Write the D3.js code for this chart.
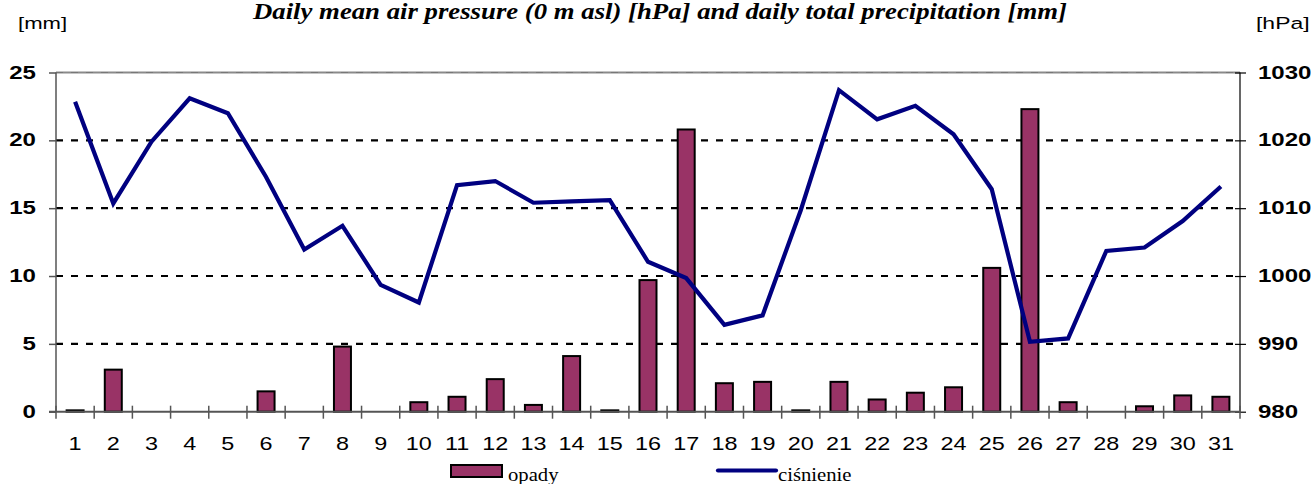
<!DOCTYPE html>
<html><head><meta charset="utf-8">
<script src="https://cdn.jsdelivr.net/npm/d3@7"></script>
<style>html,body{margin:0;padding:0;background:#fff;}svg{display:block;}</style>
</head><body>
<svg id="chart" width="1314" height="484"></svg>
<script>
const days = d3.range(1, 32).map(String);
const precipitation = [0.1,3.1,0,0,0,1.5,0,4.8,0,0.7,1.1,2.4,0.5,4.1,0.1,9.7,20.8,2.1,2.2,0.1,2.2,0.9,1.4,1.8,10.6,22.3,0.7,0,0.4,1.2,1.1];
const pressure = [1025.7,1010.7,1019.8,1026.2,1024.0,1014.6,1003.9,1007.4,998.7,996.1,1013.4,1014.0,1010.8,1011.0,1011.2,1002.1,999.7,992.8,994.2,1009.7,1027.4,1023.1,1025.1,1020.9,1012.8,990.3,990.8,1003.7,1004.2,1008.1,1013.2];
const precipTicks = [0,5,10,15,20,25];
const pressureTicks = [980,990,1000,1010,1020,1030];
const titleText = "Daily mean air pressure (0 m asl) [hPa] and daily total precipitation [mm]";
const seriesNames = ["opady","ciśnienie"];

const svg = d3.select("#chart");
const L = 56, R = 1240, T = 72.5, B = 411.7;
const SX = 1.3;
const x = d3.scaleBand().domain(days).range([L, R]).paddingInner(0.555).paddingOuter(0.2775);
const xb = d3.scaleBand().domain(days).range([L, R]);
const y = d3.scaleLinear().domain([0, 25]).range([B, T]);
const y2 = d3.scaleLinear().domain([980, 1030]).range([B, T]);

function txt(g, x0, y0, s, opts) {
  const t = g.append("text").attr("transform", `translate(${x0},${y0}) scale(${opts.sx||SX},1)`)
    .attr("font-family", opts.family || "Liberation Sans, Arial, sans-serif")
    .attr("font-size", opts.size || 18)
    .attr("font-weight", opts.weight || "normal")
    .attr("font-style", opts.style || "normal")
    .attr("text-anchor", opts.anchor || "start")
    .attr("dominant-baseline", opts.baseline || "auto")
    .attr("fill", "#000").text(s);
  return t;
}

// grid lines
svg.append("g").selectAll("line").data(precipTicks.filter(d => d > 0 && d < 25)).join("line")
  .attr("x1", L).attr("x2", R).attr("y1", d => y(d)).attr("y2", d => y(d))
  .attr("stroke", "#000").attr("stroke-width", 2.2).attr("stroke-dasharray", "7,8");
svg.append("line").attr("x1", L).attr("x2", R).attr("y1", y(25)).attr("y2", y(25))
  .attr("stroke", "#8a8a8a").attr("stroke-width", 2);
svg.append("line").attr("x1", L).attr("x2", R).attr("y1", y(25)).attr("y2", y(25))
  .attr("stroke", "#777").attr("stroke-width", 1).attr("stroke-dasharray", "7,8");

// bars
svg.append("g").selectAll("rect").data(days.map((d, i) => ({d, v: precipitation[i]})).filter(o => o.v > 0)).join("rect")
  .attr("x", o => x(o.d)).attr("width", x.bandwidth())
  .attr("y", o => y(o.v)).attr("height", o => B - y(o.v))
  .attr("fill", "#993366").attr("stroke", "#000").attr("stroke-width", 2);

// axes
const axL = svg.append("g").attr("transform", `translate(${L},0)`)
  .call(d3.axisLeft(y).tickValues(precipTicks).tickSize(7).tickFormat(""));
axL.select(".domain").attr("stroke", "#555").attr("stroke-width", 1.5).attr("d", `M-0,${T}V${B}`);
axL.selectAll(".tick line").attr("stroke", "#555").attr("stroke-width", 1.5);

const axR = svg.append("g").attr("transform", `translate(${R},0)`)
  .call(d3.axisRight(y2).tickValues(pressureTicks).tickSize(6).tickFormat(""));
axR.select(".domain").attr("stroke", "#000").attr("stroke-width", 1.2).attr("d", `M0,${T}V${B}`);
axR.selectAll(".tick line").attr("stroke", "#000").attr("stroke-width", 1.2).attr("x1", -5);

const axB = svg.append("g").attr("transform", `translate(0,${B})`)
  .call(d3.axisBottom(xb).tickSize(0).tickFormat(""));
axB.select(".domain").attr("stroke", "#555").attr("stroke-width", 2).attr("d", `M${L-7},0H${R}`);
axB.selectAll(".tick").remove();
svg.append("g").selectAll("line").data(days.concat(["end"])).join("line")
  .attr("x1", (d, i) => i < 31 ? xb(d) : R).attr("x2", (d, i) => i < 31 ? xb(d) : R)
  .attr("y1", B - 6).attr("y2", B + 7).attr("stroke", "#555").attr("stroke-width", 1.5);

// line
svg.append("path").datum(pressure)
  .attr("d", d3.line().x((d, i) => xb(days[i]) + xb.bandwidth() / 2).y(d => y2(d)))
  .attr("fill", "none").attr("stroke", "#000080").attr("stroke-width", 4.2).attr("stroke-linejoin", "miter");

// tick labels
const lab = svg.append("g");
precipTicks.forEach(t => txt(lab, 36, y(t), String(t), {weight: "bold", anchor: "end", baseline: "central", size: 18.5}));
pressureTicks.forEach(t => txt(lab, 1258, y2(t), String(t), {weight: "bold", anchor: "start", baseline: "central", size: 18.5}));
days.forEach(d => txt(lab, xb(d) + xb.bandwidth() / 2, 450, d, {anchor: "middle", size: 18}));

// unit labels
txt(svg, 18, 29, "[mm]", {size: 17});
txt(svg, 1256, 29, "[hPa]", {size: 17, sx: 1.35});

// title
svg.append("text").attr("x", 253).attr("y", 19)
  .attr("font-family", "Liberation Serif, Times New Roman, serif").attr("font-size", 23)
  .attr("font-weight", "bold").attr("font-style", "italic")
  .attr("textLength", 814).attr("lengthAdjust", "spacingAndGlyphs").text(titleText);

// legend
const lg = svg.append("g");
lg.append("rect").attr("x", 451).attr("y", 465).attr("width", 51).attr("height", 12)
  .attr("fill", "#993366").attr("stroke", "#000").attr("stroke-width", 2);
txt(lg, 508, 481, seriesNames[0], {family: "Liberation Serif, Times New Roman, serif", size: 18, sx: 1.15});
lg.append("line").attr("x1", 718).attr("x2", 776).attr("y1", 470.5).attr("y2", 470.5)
  .attr("stroke", "#000080").attr("stroke-width", 4.2).attr("stroke-linecap", "round");
txt(lg, 778, 481, seriesNames[1], {family: "Liberation Serif, Times New Roman, serif", size: 18, sx: 1.15});
</script>
</body></html>
